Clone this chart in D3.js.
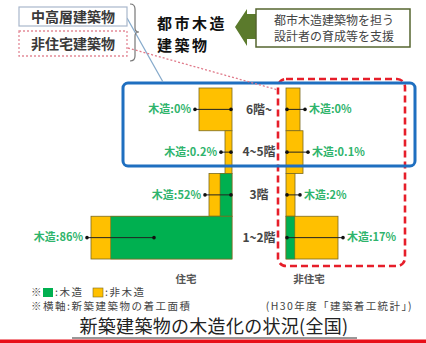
<!DOCTYPE html>
<html><head><meta charset="utf-8">
<script src="https://cdn.jsdelivr.net/npm/d3@7"></script>
<style>
html,body{margin:0;padding:0;background:#fff;}
svg{display:block;font-family:"Noto Sans CJK JP","Noto Sans",sans-serif;}
</style></head>
<body>
<svg id="chart" width="426" height="343"></svg>
<script>
// ---- data (new construction floor area, approx. 万m², H30) ----
const floors = ["6階~", "4~5階", "3階", "1~2階"];
const resArea = [1650, 350, 1150, 7050];      // 住宅
const nonResArea = [700, 850, 450, 2600];     // 非住宅
const resWoodPct = [0, 0.2, 52, 86];
const nonResWoodPct = [0, 0.1, 2, 17];
const groupLabels = ["住宅", "非住宅"];
const topBoxLabels = ["中高層建築物", "非住宅建築物"];
const titleLines = ["都市木造", "建築物"];
const supportLines = ["都市木造建築物を担う", "設計者の育成等を支援"];
const noteLegend = ["※", ":木造", ":非木造"];
const noteAxis = "※横軸:新築建築物の着工面積";
const noteSource = "(H30年度「建築着工統計」)";
const mainTitle = "新築建築物の木造化の状況(全国)";

const GREEN = "#00b050", YELLOW = "#ffc000", EDGE = "#7a6a20";
const LBL = "#2fb46c";

const svg = d3.select("#chart");

// scales
const y = d3.scaleBand().domain(floors).range([88, 259]).padding(0);
const xRes = d3.scaleLinear().domain([0, 7050]).range([232, 91]);
const xNon = d3.scaleLinear().domain([0, 7050]).range([286, 427]);

// ---- bars ----
function drawSide(area, pct, xs, cls) {
  const g = svg.append("g").attr("class", cls);
  floors.forEach((f, i) => {
    const x0 = xs(0), x1 = xs(area[i]);
    const xw = xs(area[i] * pct[i] / 100);
    g.append("rect")
      .attr("x", Math.min(x0, x1)).attr("y", y(f))
      .attr("width", Math.abs(x1 - x0)).attr("height", y.bandwidth())
      .attr("fill", YELLOW).attr("stroke", EDGE).attr("stroke-width", 0.8);
    if (Math.abs(xw - x0) >= 0.5) {
      g.append("rect")
        .attr("x", Math.min(x0, xw)).attr("y", y(f))
        .attr("width", Math.abs(xw - x0)).attr("height", y.bandwidth())
        .attr("fill", GREEN).attr("stroke", EDGE).attr("stroke-width", 0.6);
    }
  });
}
drawSide(resArea, resWoodPct, xRes, "res");
drawSide(nonResArea, nonResWoodPct, xNon, "nonres");

// ---- leader lines and labels ----
function dotLine(x1, x2, yy) {
  svg.append("line").attr("x1", x1).attr("x2", x2).attr("y1", yy).attr("y2", yy)
    .attr("stroke", "#222").attr("stroke-width", 1);
  [x1, x2].forEach(x => svg.append("circle").attr("cx", x).attr("cy", yy).attr("r", 1.8).attr("fill", "#111"));
}
floors.forEach((f, i) => {
  const yy = y(f) + y.bandwidth() / 2;
  const outer = xRes(resArea[i]) - 4;
  const inner = Math.min(xRes(0) - 1, outer + 67);
  dotLine(outer, inner, yy);
  svg.append("text").attr("x", outer - 4).attr("y", yy).attr("dy", "0.35em")
    .attr("text-anchor", "end").attr("font-size", 11).attr("font-weight", 700)
    .attr("fill", LBL).text("木造:" + resWoodPct[i] + "%");
  const nOuter = xNon(nonResArea[i]) + 5;
  dotLine(xNon(0) + 1, nOuter, yy);
  svg.append("text").attr("x", nOuter + 4).attr("y", yy).attr("dy", "0.35em")
    .attr("font-size", 11).attr("font-weight", 700)
    .attr("fill", LBL).text("木造:" + nonResWoodPct[i] + "%");
  svg.append("text").attr("x", 259).attr("y", yy).attr("dy", "0.35em")
    .attr("text-anchor", "middle").attr("font-size", 12).attr("font-weight", 700)
    .attr("fill", "#444").text(f);
});

// ---- highlight frames ----
svg.append("rect").attr("x", 278).attr("y", 79).attr("width", 127).attr("height", 187)
  .attr("rx", 8).attr("fill", "none").attr("stroke", "#e61e2a").attr("stroke-width", 2.6)
  .attr("stroke-dasharray", "7,4");
svg.append("rect").attr("x", 123).attr("y", 83).attr("width", 292).attr("height", 83)
  .attr("rx", 5).attr("fill", "none").attr("stroke", "#1f6fc0").attr("stroke-width", 3);

// ---- top annotations ----
svg.append("line").attr("x1", 127).attr("y1", 18).attr("x2", 163).attr("y2", 82)
  .attr("stroke", "#86aacb").attr("stroke-width", 1.3);
svg.append("line").attr("x1", 128).attr("y1", 48).attr("x2", 278).attr("y2", 90)
  .attr("stroke", "#e07a8a").attr("stroke-width", 1.3).attr("stroke-dasharray", "2,2");

svg.append("rect").attr("x", 19).attr("y", 7).attr("width", 108).attr("height", 19)
  .attr("fill", "#fff").attr("stroke", "#a9b7cc").attr("stroke-width", 1.2);
svg.append("rect").attr("x", 19).attr("y", 31).attr("width", 108).attr("height", 25)
  .attr("fill", "#fff").attr("stroke", "#e38a98").attr("stroke-width", 1.3).attr("stroke-dasharray", "2,2");
svg.append("text").attr("x", 73).attr("y", 17).attr("dy", "0.35em").attr("text-anchor", "middle")
  .attr("font-size", 14).attr("font-weight", 700).attr("fill", "#3a3a3a").text(topBoxLabels[0]);
svg.append("text").attr("x", 73).attr("y", 44).attr("dy", "0.35em").attr("text-anchor", "middle")
  .attr("font-size", 14).attr("font-weight", 700).attr("fill", "#3a3a3a").text(topBoxLabels[1]);
svg.append("path").attr("d", "M130,4 Q135,4 135,9 L135,28 Q135,32 139,32 Q135,32 135,36 L135,56 Q135,61 130,61")
  .attr("fill", "none").attr("stroke", "#777").attr("stroke-width", 1.2);

titleLines.forEach((t, i) => {
  svg.append("text").attr("x", 157).attr("y", 24 + i * 22).attr("dy", "0.35em").attr("font-size", 15)
    .attr("letter-spacing", 2.5).attr("font-weight", 700).attr("fill", "#111").text(t);
});

svg.append("path").attr("d", "M235,27 L247,9 L247,14 L257,14 L257,39 L247,39 L247,46 Z")
  .attr("fill", "#5b7a2c");
svg.append("rect").attr("x", 256).attr("y", 9).attr("width", 154).attr("height", 38)
  .attr("fill", "#fff").attr("stroke", "#55652f").attr("stroke-width", 1.5);
supportLines.forEach((t, i) => {
  svg.append("text").attr("x", 334).attr("y", 21 + i * 16).attr("dy", "0.35em")
    .attr("text-anchor", "middle").attr("font-size", 12).attr("fill", "#444").text(t);
});

// ---- bottom texts ----
svg.append("text").attr("x", 186).attr("y", 279).attr("dy", "0.35em")
  .attr("text-anchor", "middle").attr("font-size", 10.5).attr("font-weight", 700).attr("fill", "#555").text(groupLabels[0]);
svg.append("text").attr("x", 309).attr("y", 279).attr("dy", "0.35em")
  .attr("text-anchor", "middle").attr("font-size", 10.5).attr("font-weight", 700).attr("fill", "#555").text(groupLabels[1]);

const NF = 10.5;
svg.append("text").attr("x", 31).attr("y", 292).attr("dy", "0.35em").attr("font-size", NF)
  .attr("fill", "#444").text(noteLegend[0]);
svg.append("rect").attr("x", 43).attr("y", 288).attr("width", 10).attr("height", 9).attr("fill", GREEN);
svg.append("text").attr("x", 55).attr("y", 292).attr("dy", "0.35em").attr("font-size", NF)
  .attr("letter-spacing", 1.5).attr("fill", "#444").text(noteLegend[1]);
svg.append("rect").attr("x", 93).attr("y", 288).attr("width", 10).attr("height", 9).attr("fill", YELLOW)
  .attr("stroke", EDGE).attr("stroke-width", 0.6);
svg.append("text").attr("x", 105).attr("y", 292).attr("dy", "0.35em").attr("font-size", NF)
  .attr("letter-spacing", 1.5).attr("fill", "#444").text(noteLegend[2]);
svg.append("text").attr("x", 31).attr("y", 306).attr("dy", "0.35em").attr("font-size", NF)
  .attr("letter-spacing", 1.5).attr("fill", "#444").text(noteAxis);
svg.append("text").attr("x", 413).attr("y", 306).attr("dy", "0.35em").attr("text-anchor", "end")
  .attr("font-size", NF).attr("letter-spacing", 1.4).attr("fill", "#444").text(noteSource);

svg.append("text").attr("x", 214).attr("y", 327).attr("dy", "0.35em").attr("text-anchor", "middle")
  .attr("font-size", 18).attr("letter-spacing", 0.3).attr("fill", "#222").text(mainTitle);
svg.append("line").attr("x1", 72).attr("x2", 357).attr("y1", 338).attr("y2", 338)
  .attr("stroke", "#333").attr("stroke-width", 1);
svg.append("rect").attr("x", 0).attr("y", 339.5).attr("width", 426).attr("height", 4).attr("fill", "#e8101a");
</script>
</body></html>
